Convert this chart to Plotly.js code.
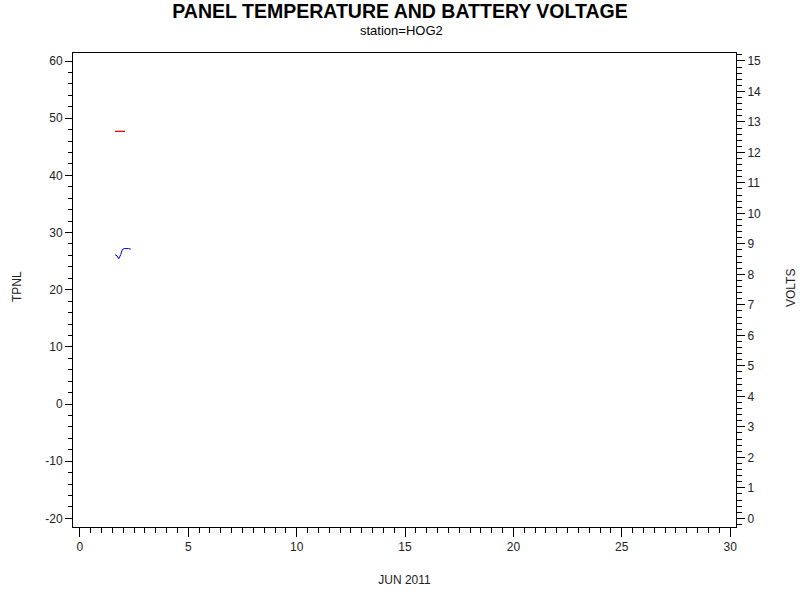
<!DOCTYPE html>
<html>
<head>
<meta charset="utf-8">
<script src="https://cdn.plot.ly/plotly-3.0.1.min.js"></script>
<style>
  body { margin: 0; background: #fff; }
  #chart { width: 800px; height: 600px; }
</style>
</head>
<body>
<div id="chart"></div>
<script>
// day of June 2011
let tpnlDays = [1.62, 1.72, 1.79, 1.89, 1.95, 2.04, 2.23, 2.35];
let tpnlValues = [26.1, 25.9, 25.4, 26.2, 27.0, 27.2, 27.2, 27.1];

let voltDays = [1.62, 2.08];
let voltValues = [12.69, 12.69];

let tpnlTicks = [-20, -10, 0, 10, 20, 30, 40, 50, 60];
let tpnlTickText = ['-20', '-10', '0', '10', '20', '30', '40', '50', '60'];

let axisFont = {family: "Arial, 'Liberation Sans', sans-serif", size: 12, color: "#222"};

// plot area in pixels: x 73..736, y 53..527
function px2paperX(px){ return (px - 73) / 663; }
function px2paperY(py){ return (527 - py) / 474; }

let traces = [{
    x: tpnlDays,
    y: tpnlValues,
    mode: 'lines',
    line: {color: '#0000ff', width: 1},
    name: 'TPNL',
    yaxis: 'y'
},
{
    x: voltDays,
    y: voltValues,
    mode: 'lines',
    line: {color: '#ff0000', width: 1.3},
    name: 'VOLTS',
    yaxis: 'y2'
}];

let layout = {
    width: 800,
    height: 600,
    margin: {l: 73, r: 64, t: 53, b: 73},
    paper_bgcolor: '#fff',
    plot_bgcolor: '#fff',
    showlegend: false,
    font: axisFont,
    title: {
        text: 'PANEL TEMPERATURE AND BATTERY VOLTAGE',
        font: {family: "Arial, 'Liberation Sans', sans-serif", size: 19.5, color: '#000', weight: 'bold'},
        x: 0.5, xref: 'container', xanchor: 'center',
        y: 1 - 11 / 600, yref: 'container', yanchor: 'middle'
    },
    annotations: [
        {text: 'station=HOG2', xref: 'paper', yref: 'paper', x: px2paperX(401), y: px2paperY(30),
         xanchor: 'center', yanchor: 'middle', showarrow: false,
         font: {family: "Arial, 'Liberation Sans', sans-serif", size: 13, color: '#000'}},
        {text: 'TPNL', xref: 'paper', yref: 'paper', x: px2paperX(17), y: px2paperY(287), textangle: -90,
         xanchor: 'center', yanchor: 'middle', showarrow: false, font: axisFont},
        {text: 'VOLTS', xref: 'paper', yref: 'paper', x: px2paperX(791), y: px2paperY(288), textangle: -90,
         xanchor: 'center', yanchor: 'middle', showarrow: false, font: axisFont}
    ],
    xaxis: {
        range: [-0.32, 30.27],
        tick0: 0, dtick: 5,
        ticks: 'outside', ticklen: 9, tickcolor: '#000', tickwidth: 1,
        minor: {dtick: 0.5, ticks: 'outside', ticklen: 5, tickcolor: '#000', showgrid: false},
        showline: true, linecolor: '#000', linewidth: 1, mirror: true,
        showgrid: false, zeroline: false,
        tickfont: axisFont,
        title: {text: 'JUN 2011', font: axisFont, standoff: 22}
    },
    yaxis: {
        range: [-21.5, 61.4],
        tickmode: 'array', tickvals: tpnlTicks, ticktext: tpnlTickText,
        ticks: 'outside', ticklen: 7, tickcolor: '#000', tickwidth: 1,
        minor: {tick0: 0, dtick: 2, ticks: 'outside', ticklen: 4, tickcolor: '#000', showgrid: false},
        showline: true, linecolor: '#000', linewidth: 1,
        showgrid: false, zeroline: false,
        tickfont: axisFont
    },
    yaxis2: {
        range: [-0.285, 15.26],
        tick0: 0, dtick: 1,
        overlaying: 'y', side: 'right',
        ticks: 'outside', ticklen: 8, tickcolor: '#000', tickwidth: 1,
        minor: {dtick: 0.2, ticks: 'outside', ticklen: 5, tickcolor: '#000', showgrid: false},
        showline: true, linecolor: '#000', linewidth: 1,
        showgrid: false, zeroline: false,
        tickfont: axisFont
    }
};

Plotly.newPlot('chart', traces, layout, {displayModeBar: false, staticPlot: true});
</script>
</body>
</html>
